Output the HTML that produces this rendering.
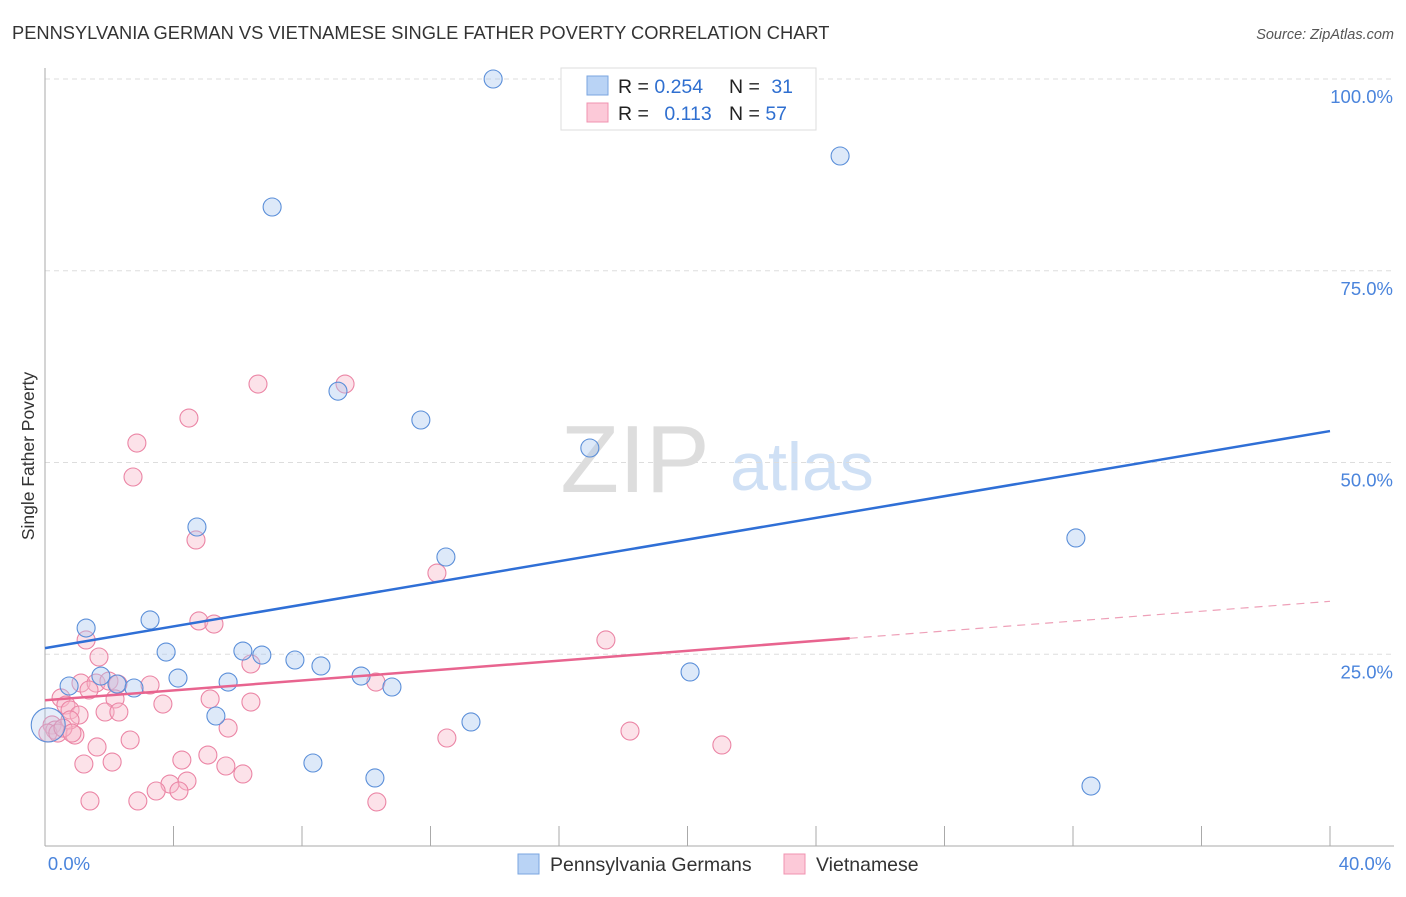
<!DOCTYPE html>
<html><head><meta charset="utf-8"><style>
body{margin:0;background:#fff;font-family:"Liberation Sans",sans-serif;}
svg text{font-family:"Liberation Sans",sans-serif;}
</style></head><body>
<svg width="1406" height="892" id="chart">
<text x="12" y="39" font-size="18.3" fill="#333">PENNSYLVANIA GERMAN VS VIETNAMESE SINGLE FATHER POVERTY CORRELATION CHART</text>
<text x="1394" y="39" font-size="14.5" fill="#555" font-style="italic" text-anchor="end">Source: ZipAtlas.com</text>
<text x="34" y="456" font-size="17.5" fill="#333" text-anchor="middle" transform="rotate(-90 34 456)">Single Father Poverty</text>
<g><text x="635" y="492" font-size="96" fill="#ddd" font-family="Liberation Serif" text-anchor="middle">ZIP</text><text x="802" y="490" font-size="68" fill="#cfe0f5" text-anchor="middle">atlas</text></g>
<g id="grid"></g><g id="axes"></g><g id="marks"></g>
<g>
<rect x="561" y="68" width="255" height="62" fill="#fff" stroke="#ddd"/>
<rect x="587" y="76" width="21" height="19" fill="#b9d3f5" stroke="#7aa6e0"/>
<rect x="587" y="103" width="21" height="19" fill="#fcc9d8" stroke="#f093b0"/>
<text x="618" y="93" font-size="19.5" fill="#222">R = <tspan fill="#2f6fd0">0.254</tspan></text>
<text x="729" y="93" font-size="19.5" fill="#222">N = <tspan fill="#2f6fd0" dx="6">31</tspan></text>
<text x="618" y="120" font-size="19.5" fill="#222">R = <tspan fill="#2f6fd0" dx="10">0.113</tspan></text>
<text x="729" y="120" font-size="19.5" fill="#222">N = <tspan fill="#2f6fd0">57</tspan></text>
</g>
<g>
<rect x="518" y="854" width="21" height="20" fill="#b9d3f5" stroke="#7aa6e0"/>
<text x="550" y="871" font-size="19.5" fill="#333">Pennsylvania Germans</text>
<rect x="784" y="854" width="21" height="20" fill="#fcc9d8" stroke="#f093b0"/>
<text x="816" y="871" font-size="19.5" fill="#333">Vietnamese</text>
</g>
</svg>
<script>
const xTicks=[0,4,8,12,16,20,24,28,32,36,40];
const yTicks=[25,50,75,100];
const yTickLabels=["25.0%","50.0%","75.0%","100.0%"];
const xTickLabels=["0.0%","40.0%"];
const paX=[13.95,24.75,7.07,9.12,11.70,16.96,4.73,12.48,32.09,3.27,1.28,3.77,6.16,6.75,7.78,8.59,4.14,5.70,9.84,10.80,0.75,1.74,2.24,2.77,5.32,13.26,20.08,8.34,10.27,32.56,0.1];
const paY=[100.0,89.96,83.31,59.3,55.54,51.89,41.59,37.68,40.16,29.47,28.42,25.29,25.42,24.9,24.25,23.47,21.9,21.38,22.16,20.73,20.86,22.16,21.12,20.6,16.95,16.17,22.69,10.82,8.87,7.82,15.78];
const viX=[6.63,9.34,4.48,2.86,2.74,4.70,12.2,4.79,5.26,1.28,17.46,1.68,6.41,1.12,1.59,1.99,3.27,2.27,1.37,0.50,5.14,6.41,2.18,0.65,3.67,0.78,1.06,1.87,2.30,10.3,5.70,0.22,0.31,0.09,0.40,0.93,2.65,1.62,12.51,18.21,21.07,5.07,4.26,1.21,2.09,5.63,6.16,3.89,4.42,4.17,3.46,1.40,2.89,10.33,0.78,0.56,0.84];
const viY=[60.23,60.23,55.8,52.54,48.11,39.9,35.59,29.34,28.94,26.86,26.86,24.64,23.73,21.25,21.25,21.51,20.99,21.12,20.34,19.3,19.17,18.77,19.17,18.38,18.51,17.73,17.08,17.47,17.47,21.38,15.38,15.78,15.12,14.73,14.73,14.47,13.82,12.91,14.08,14.99,13.17,11.86,11.21,10.69,10.95,10.43,9.39,8.08,8.47,7.17,7.17,5.87,5.87,5.74,16.43,15.38,14.73];
const paTrend=[25.8,0.7075];
const viTrend=[19.0,0.3225];
const viSolidEnd=25.05;
const X=v=>45+v/40*1285, Y=v=>846-v/100*767;
const NS='http://www.w3.org/2000/svg';
function mk(tag,attrs,parent){const e=document.createElementNS(NS,tag);for(const k in attrs)e.setAttribute(k,attrs[k]);document.getElementById(parent).appendChild(e);return e;}
yTicks.forEach((t,i)=>{
 const g=mk('line',{x1:45,x2:1394,y1:Y(t),y2:Y(t),stroke:'#ddd','stroke-dasharray':'5,4'},'grid');
 
 
 const l=mk('text',{x:1393,y:Y(t)+24,'font-size':18.5,fill:'#4a84dc','text-anchor':'end'},'axes');l.textContent=yTickLabels[i];
 
 
});
const ax=mk('line',{x1:45,x2:45,y1:68,y2:846,stroke:'#aaa'},'axes');


const bx=mk('line',{x1:45,x2:1394,y1:846,y2:846,stroke:'#aaa'},'axes');


xTicks.forEach(t=>{const e=mk('line',{x1:X(t),x2:X(t),y1:826,y2:846,stroke:'#aaa'},'axes');
 
 });
[[0,69,'middle'],[40,1365,'middle']].forEach((a,i)=>{const e=mk('text',{x:a[1],y:870,'font-size':18.5,fill:'#4a84dc','text-anchor':a[2]},'axes');e.textContent=xTickLabels[i];
 
 });
function dots(xs,ys,fill,stroke,name){xs.forEach((x,i)=>{const big=(x<0.2&&name==='pennsylvania-point');
 const c=mk('circle',{cx:X(x),cy:Y(ys[i]),r:big?17:9,fill:fill,'fill-opacity':big?0.3:0.4,stroke:stroke,'stroke-width':1.1},'marks');
 
 });}
dots(viX,viY,'#f7b6c9','#eb85a5','vietnamese-point');
dots(paX,paY,'#a9c8f0','#5b8fd9','pennsylvania-point');
const t1=mk('line',{x1:X(0),y1:Y(paTrend[0]),x2:X(40),y2:Y(paTrend[0]+paTrend[1]*40),stroke:'#2f6fd6','stroke-width':2.5},'marks');


const t2=mk('line',{x1:X(0),y1:Y(viTrend[0]),x2:X(viSolidEnd),y2:Y(viTrend[0]+viTrend[1]*viSolidEnd),stroke:'#e8648f','stroke-width':2.5},'marks');


const t3=mk('line',{x1:X(viSolidEnd),y1:Y(viTrend[0]+viTrend[1]*viSolidEnd),x2:X(40),y2:Y(viTrend[0]+viTrend[1]*40),stroke:'#eea0b8','stroke-width':1.2,'stroke-dasharray':'8,6'},'marks');


</script>
</body></html>
